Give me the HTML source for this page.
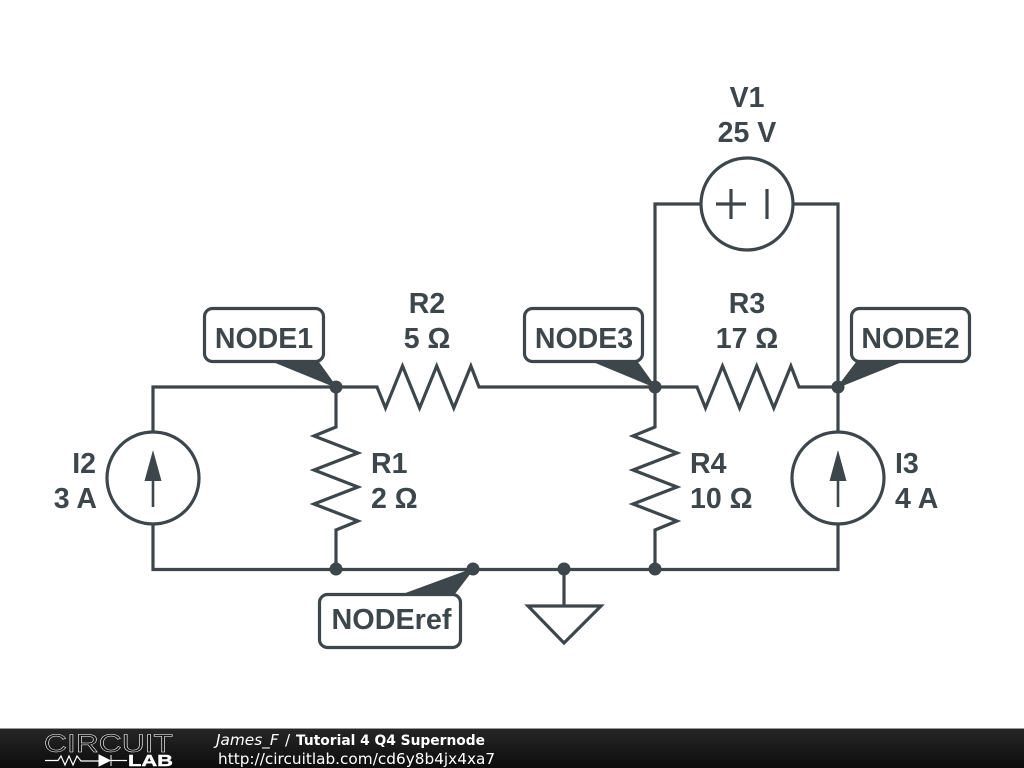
<!DOCTYPE html>
<html><head><meta charset="utf-8"><title>Tutorial 4 Q4 Supernode</title>
<style>html,body{margin:0;padding:0;background:#fff;width:1024px;height:768px;overflow:hidden}svg{display:block}
.t{font-family:"Liberation Sans",sans-serif;font-weight:700;font-size:28.500px;fill:#3c464b}
.w{fill:none;stroke:#3c464b;stroke-width:3.2;stroke-linejoin:miter}
.b{fill:#fff;stroke:#3c464b;stroke-width:3.2}
.f{fill:#3c464b}
.c{fill:#3c464b;stroke:#3c464b;stroke-width:1.5;stroke-linejoin:round}
.d{font-family:"DejaVu Sans",sans-serif;font-size:15.3px;fill:#fff}
</style></head><body>
<svg width="1024" height="768" viewBox="0 0 1024 768" xmlns="http://www.w3.org/2000/svg">
<defs><linearGradient id="g" x1="0" y1="0" x2="0" y2="1"><stop offset="0" stop-color="#262626"/><stop offset="1" stop-color="#0c0c0c"/></linearGradient></defs>
<rect width="1024" height="768" fill="#fff"/>
<!-- wires -->
<path class="w" d="M153 432V387H377L385.500 408 402.500 366 419.600 408 436.700 366 453.800 408 470.900 366 479 387H697L705.500 408 722.500 366 739.600 408 756.700 366 773.800 408 790.900 366 799 387H838"/>
<path class="w" d="M153 524V569.500H838V524"/>
<path class="w" d="M838 432V204H793M701 204H655V387"/>
<path class="w" d="M336 387V427L314 436 358 453 314 470 358 487 314 504 358 521 336 530V569"/>
<path class="w" d="M655 387V427L633 436 677 453 633 470 677 487 633 504 677 521 655 530V569"/>
<path class="w" d="M564 569V606M528 606H601L564 643Z"/>
<!-- sources -->
<circle class="w" cx="153" cy="478" r="46"/>
<circle class="w" cx="838" cy="478" r="46"/>
<circle class="w" cx="747" cy="204" r="46"/>
<path class="w" style="stroke-width:2.600" d="M153 507V478M838 507V478"/>
<path class="w" d="M716 204H746M731 189V219M767 189V219"/>
<path class="f" d="M153 450L161.500 481H144.500Z"/>
<path class="f" d="M838 450L846.500 481H829.500Z"/>
<!-- callouts -->
<path class="c" d="M275 362H318L336 387Z"/>
<path class="c" d="M595 362H637L655 387Z"/>
<path class="c" d="M857 362H900L838 387Z"/>
<path class="c" d="M405 594H454L473 569Z"/>
<rect class="b" x="204.500" y="308.500" width="119" height="53" rx="8"/>
<rect class="b" x="524.500" y="308.500" width="118" height="53" rx="8"/>
<rect class="b" x="851.500" y="308.500" width="118" height="53" rx="8"/>
<rect class="b" x="319.500" y="594.500" width="141" height="53" rx="8"/>
<!-- dots -->
<g class="f"><circle cx="336" cy="387" r="6.500"/><circle cx="655" cy="387" r="6.500"/><circle cx="838" cy="387" r="6.500"/><circle cx="336" cy="569" r="6.500"/><circle cx="473" cy="569" r="6.500"/><circle cx="564" cy="569" r="6.500"/><circle cx="655" cy="569" r="6.500"/></g>
<!-- labels -->
<g class="t" text-anchor="middle">
<text x="264" y="348">NODE1</text>
<text x="584" y="348">NODE3</text>
<text x="910.500" y="348">NODE2</text>
<text x="391.500" y="629" textLength="120" lengthAdjust="spacingAndGlyphs">NODEref</text>
<text x="427" y="313">R2</text><text x="427" y="348">5 Ω</text>
<text x="747" y="313">R3</text><text x="747" y="348">17 Ω</text>
<text x="747" y="107">V1</text><text x="747" y="142">25 V</text>
</g>
<g class="t">
<text x="371" y="473">R1</text><text x="371" y="508">2 Ω</text>
<text x="690" y="473">R4</text><text x="690" y="508">10 Ω</text>
<text x="895" y="473">I3</text><text x="895" y="508">4 A</text>
</g>
<g class="t" text-anchor="end"><text x="96" y="473">I2</text><text x="97" y="508">3 A</text></g>
<!-- footer -->
<rect y="729" width="1024" height="39" fill="url(#g)"/>
<rect y="728" width="1024" height="1" fill="#999"/>
<text x="44" y="752" textLength="129" lengthAdjust="spacingAndGlyphs" style="font-family:'Liberation Sans',sans-serif;font-size:25px;fill:#151515;stroke:#fff;stroke-width:.5">CIRCUIT</text>
<path d="M45 760.500H58L61 756 65 765 69 756 73 765 77 756 81 761H99" fill="none" stroke="#fff" stroke-width="1.200"/>
<path d="M99 755L110 760.500 99 766ZM111 755V766" fill="#fff" stroke="#fff" stroke-width="1"/>
<path d="M111 760.500H127" fill="none" stroke="#fff" stroke-width="1.200"/>
<text x="128" y="766" textLength="45" lengthAdjust="spacingAndGlyphs" style="font-family:'Liberation Sans',sans-serif;font-weight:700;font-size:16px;fill:#fff;stroke:#fff;stroke-width:.4">LAB</text>
<text class="d" x="216" y="745" font-style="italic">James_F</text>
<text class="d" x="285" y="745">/</text>
<text class="d" x="296" y="745" textLength="189" lengthAdjust="spacingAndGlyphs" font-weight="700" style="font-size:14.3px">Tutorial 4 Q4 Supernode</text>
<text class="d" x="218" y="764">http://circuitlab.com/cd6y8b4jx4xa7</text>
</svg>
</body></html>
